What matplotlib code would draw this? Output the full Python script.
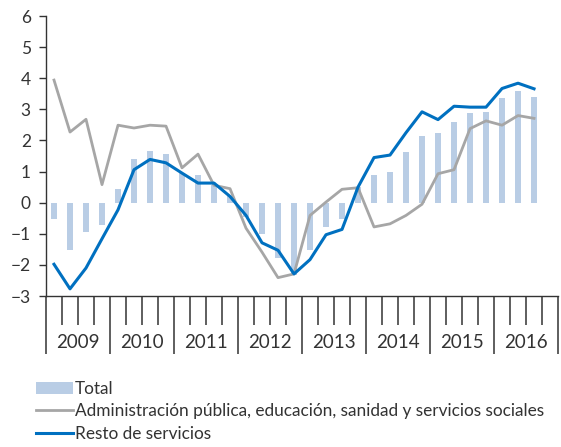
import matplotlib
matplotlib.use('Agg')
import matplotlib.pyplot as plt
import matplotlib.transforms as mtransforms
import numpy as np

plt.rcParams['font.family'] = ['Lato', 'DejaVu Sans']

years = ['2009', '2010', '2011', '2012', '2013', '2014', '2015', '2016']

# trimestres 2009T1 - 2016T3
total = [-0.54, -1.53, -0.94, -0.71,
         0.45, 1.39, 1.66, 1.58,
         0.95, 0.88, 0.56, 0.20,
         -0.46, -1.00, -1.78, -2.31,
         -1.51, -0.78, -0.52, 0.50,
         0.89, 0.97, 1.62, 2.14,
         2.23, 2.58, 2.88, 2.92,
         3.36, 3.58, 3.40]
admin = [3.94, 2.27, 2.68, 0.58,
         2.49, 2.40, 2.49, 2.46,
         1.12, 1.56, 0.56, 0.45,
         -0.82, -1.59, -2.41, -2.29,
         -0.41, 0.02, 0.43, 0.48,
         -0.78, -0.68, -0.41, -0.05,
         0.93, 1.06, 2.38, 2.63,
         2.49, 2.80, 2.71]
resto = [-1.98, -2.77, -2.10, -1.16,
         -0.23, 1.06, 1.39, 1.28,
         0.95, 0.63, 0.63, 0.20,
         -0.41, -1.29, -1.53, -2.29,
         -1.83, -1.03, -0.86, 0.50,
         1.45, 1.53, 2.25, 2.92,
         2.67, 3.10, 3.07, 3.07,
         3.67, 3.84, 3.66]

fig = plt.figure(figsize=(5.61, 4.47), dpi=100)
ax = fig.add_axes([0.082, 0.3378, 0.9127, 0.6264])

x = np.arange(len(total)) + 0.5
ax.bar(x, total, width=0.42, color='#b9cde5', label='Total', zorder=1)
ax.plot(x, admin, color='#a6a6a6', lw=2.0, zorder=2,
        label='Administración pública, educación, sanidad y servicios sociales')
ax.plot(x, resto, color='#0070c0', lw=2.2, zorder=3, label='Resto de servicios')

ax.set_xlim(0, 32)
ax.set_ylim(-3, 6)
ax.set_yticks(range(-3, 7))
ax.tick_params(axis='y', direction='out', length=5, width=1, color='#333333',
               labelsize=12.5, labelcolor='#333333', pad=6)

for s in ['top', 'right']:
    ax.spines[s].set_visible(False)
for s in ['left', 'bottom']:
    ax.spines[s].set_color('#333333')
    ax.spines[s].set_linewidth(1.0)

ax.set_xticks(range(0, 33, 4))
ax.set_xticks(range(0, 33), minor=True)
ax.tick_params(axis='x', which='major', length=42, width=1.1, color='#333333',
               labelbottom=False)
ax.tick_params(axis='x', which='minor', length=21, width=1.1, color='#333333')

trans = mtransforms.blended_transform_factory(ax.transData, fig.transFigure)
for i, yr in enumerate(years):
    ax.text(4 * i + 2, 1 - 342 / 447, yr, transform=trans, ha='center', va='center',
            fontsize=13.5, color='#333333')

h, l = ax.get_legend_handles_labels()
order = [2, 0, 1]
leg = fig.legend([h[i] for i in order], [l[i] for i in order],
                 loc='upper left', bbox_to_anchor=(0.064, 1 - 381 / 447),
                 frameon=False, fontsize=12.45, handlelength=2.14, handletextpad=0.13,
                 labelspacing=0.37, borderpad=0, borderaxespad=0)
for t in leg.get_texts():
    t.set_color('#333333')

fig.savefig('out.png', dpi=100)
